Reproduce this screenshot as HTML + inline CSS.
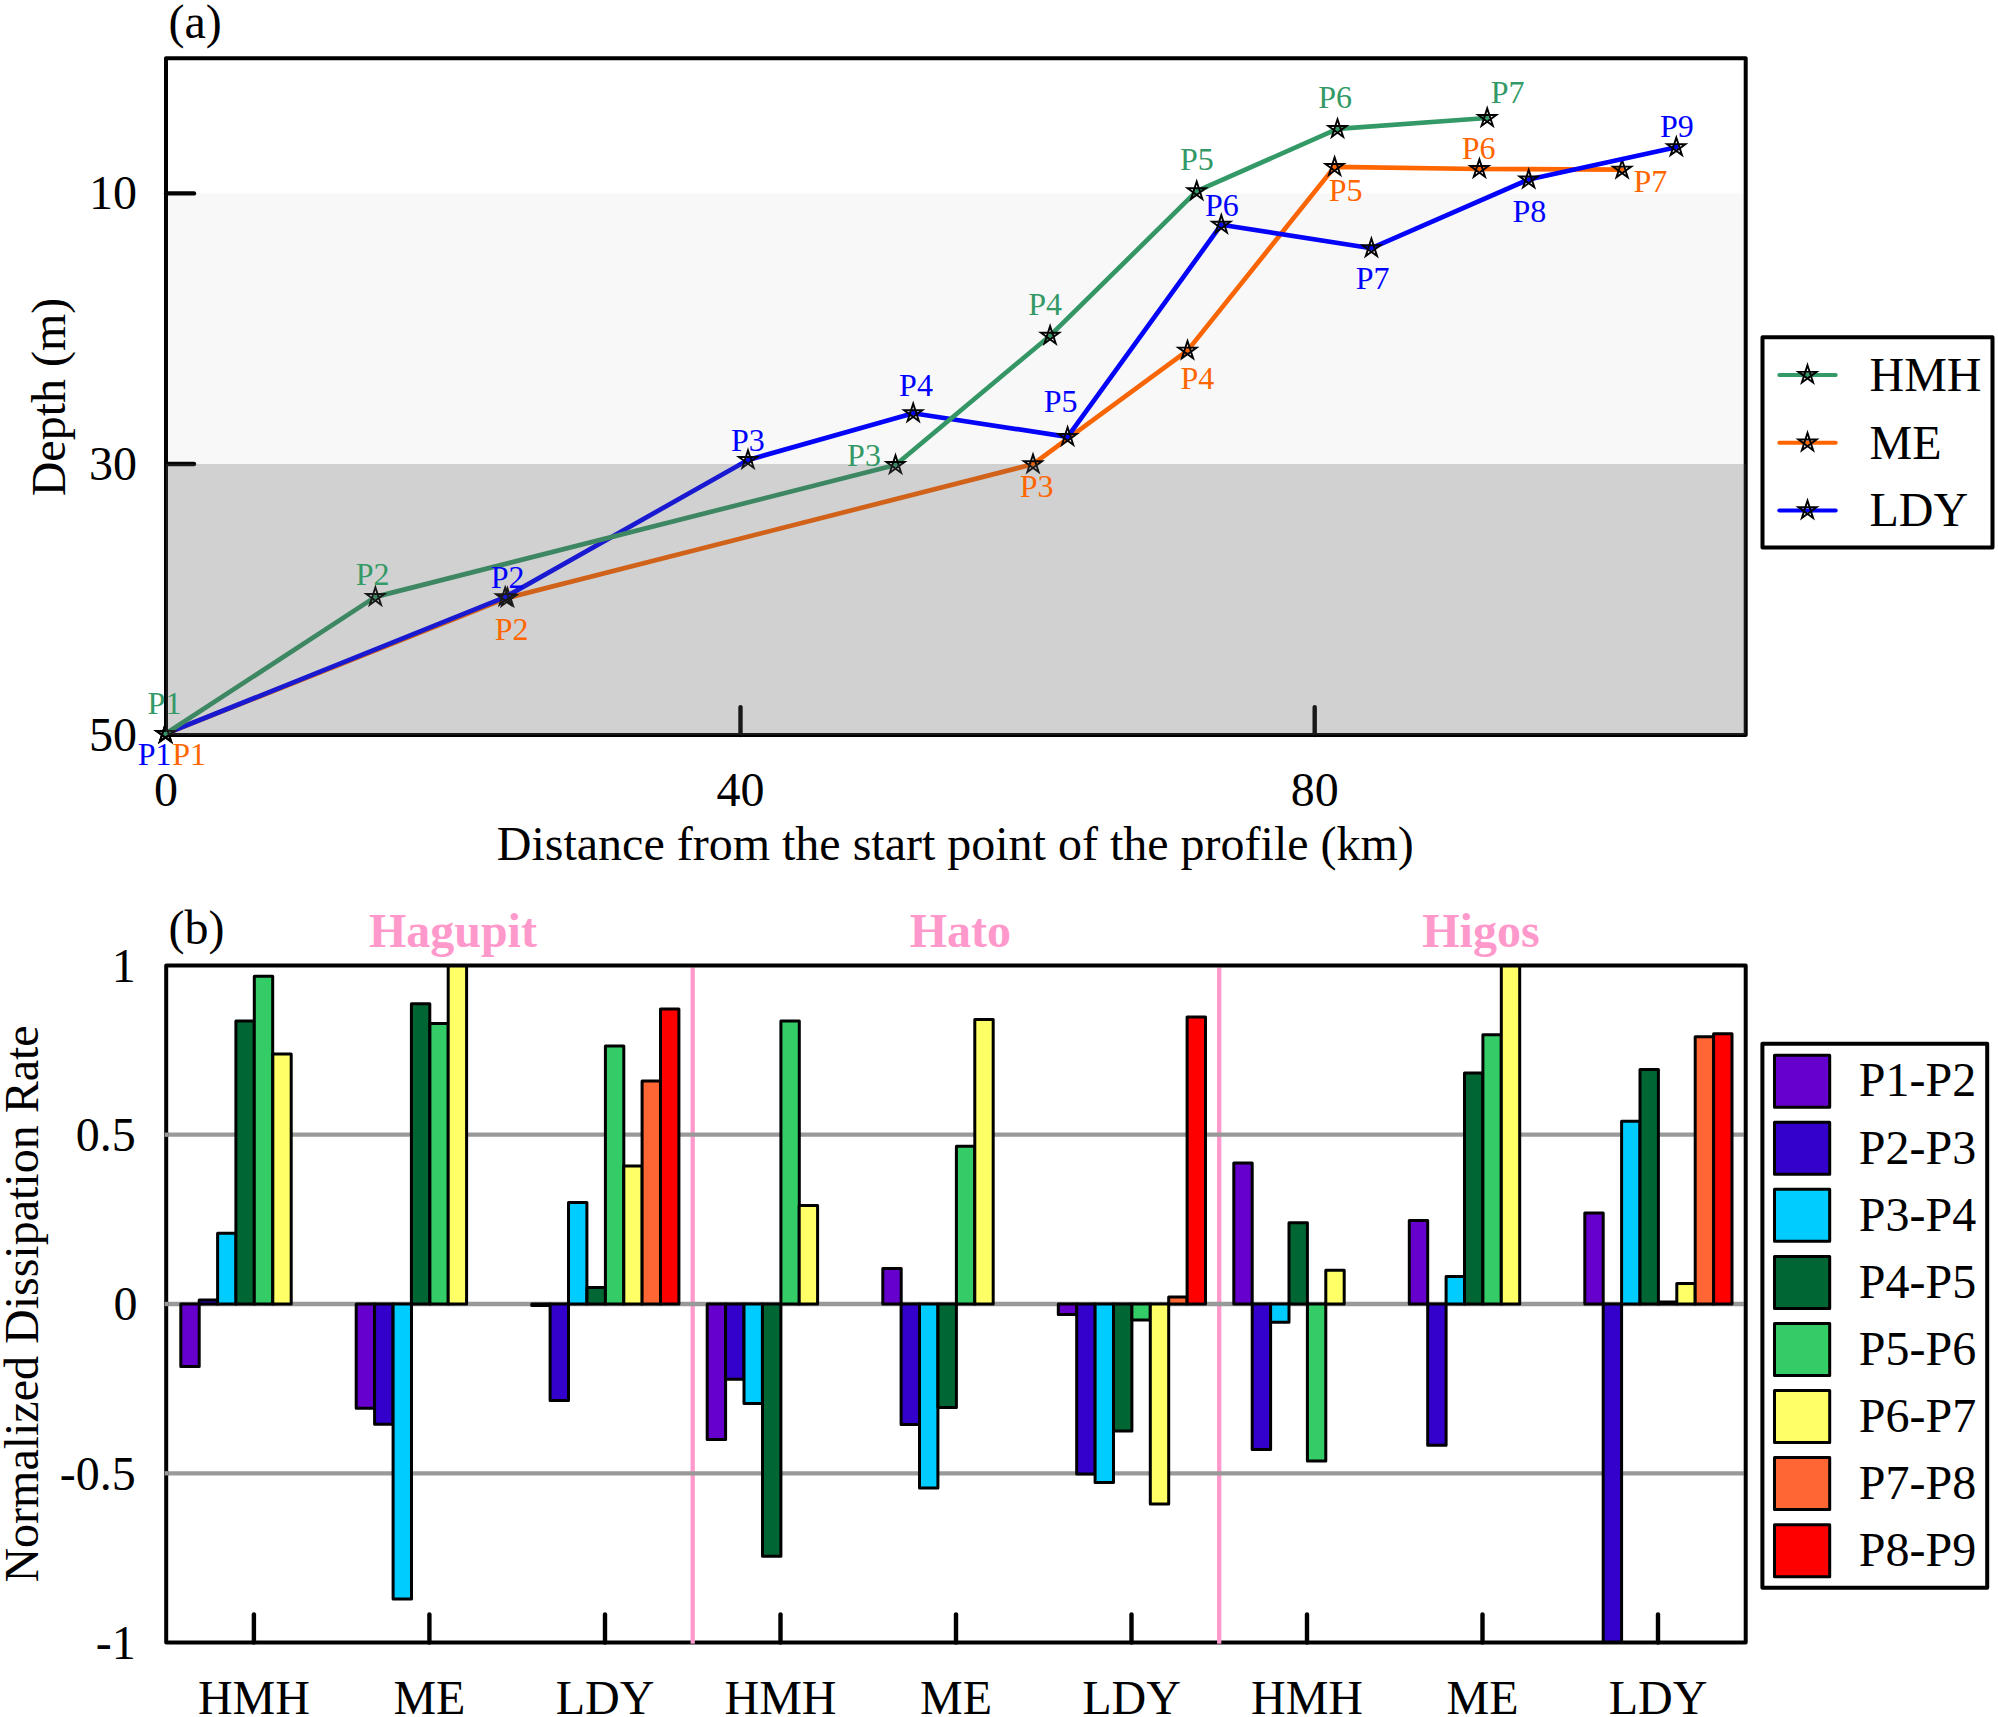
<!DOCTYPE html>
<html><head><meta charset="utf-8"><title>Figure</title>
<style>html,body{margin:0;padding:0;background:#fff;overflow:hidden;}svg{display:block;}text{font-family:"Liberation Serif","Times New Roman",serif;}</style>
</head><body>
<svg width="1998" height="1717" viewBox="0 0 1998 1717">
<rect x="0" y="0" width="1998" height="1717" fill="#fff"/>
<g id="panel-a">
<rect x="166.0" y="58.2" width="1579.7" height="676.9" fill="none" stroke="#000" stroke-width="4" stroke-linejoin="round"/>
<line x1="166.0" y1="193.4" x2="194.0" y2="193.4" stroke="#000" stroke-width="4.4" stroke-linecap="round"/>
<line x1="166.0" y1="464.0" x2="194.0" y2="464.0" stroke="#000" stroke-width="4.4" stroke-linecap="round"/>
<line x1="740.5" y1="735.1" x2="740.5" y2="707.1" stroke="#000" stroke-width="4.4" stroke-linecap="round"/>
<line x1="1314.7" y1="735.1" x2="1314.7" y2="707.1" stroke="#000" stroke-width="4.4" stroke-linecap="round"/>
<polyline points="165.5,733.8 507.4,597.9 1033.0,464.2 1187.5,350.6 1334.6,166.9 1479.4,169.0 1622.1,169.6" fill="none" stroke="#FF6600" stroke-width="4.7" stroke-linejoin="round" stroke-linecap="round"/>
<polygon points="165.50,724.20 171.14,741.57 156.37,730.83 174.63,730.83 159.86,741.57" fill="none" stroke="#000" stroke-width="1.9" stroke-linejoin="miter" stroke-miterlimit="6"/>
<polygon points="507.40,588.30 513.04,605.67 498.27,594.93 516.53,594.93 501.76,605.67" fill="none" stroke="#000" stroke-width="1.9" stroke-linejoin="miter" stroke-miterlimit="6"/>
<polygon points="1033.00,454.60 1038.64,471.97 1023.87,461.23 1042.13,461.23 1027.36,471.97" fill="none" stroke="#000" stroke-width="1.9" stroke-linejoin="miter" stroke-miterlimit="6"/>
<polygon points="1187.50,341.00 1193.14,358.37 1178.37,347.63 1196.63,347.63 1181.86,358.37" fill="none" stroke="#000" stroke-width="1.9" stroke-linejoin="miter" stroke-miterlimit="6"/>
<polygon points="1334.60,157.30 1340.24,174.67 1325.47,163.93 1343.73,163.93 1328.96,174.67" fill="none" stroke="#000" stroke-width="1.9" stroke-linejoin="miter" stroke-miterlimit="6"/>
<polygon points="1479.40,159.40 1485.04,176.77 1470.27,166.03 1488.53,166.03 1473.76,176.77" fill="none" stroke="#000" stroke-width="1.9" stroke-linejoin="miter" stroke-miterlimit="6"/>
<polygon points="1622.10,160.00 1627.74,177.37 1612.97,166.63 1631.23,166.63 1616.46,177.37" fill="none" stroke="#000" stroke-width="1.9" stroke-linejoin="miter" stroke-miterlimit="6"/>
<polyline points="165.5,733.8 505.2,597.1 748.0,460.0 913.2,413.2 1067.6,436.9 1221.3,224.7 1371.4,248.2 1528.7,179.5 1676.3,147.2" fill="none" stroke="#0000FF" stroke-width="4.7" stroke-linejoin="round" stroke-linecap="round"/>
<polygon points="165.50,724.20 171.14,741.57 156.37,730.83 174.63,730.83 159.86,741.57" fill="none" stroke="#000" stroke-width="1.9" stroke-linejoin="miter" stroke-miterlimit="6"/>
<polygon points="505.20,587.50 510.84,604.87 496.07,594.13 514.33,594.13 499.56,604.87" fill="none" stroke="#000" stroke-width="1.9" stroke-linejoin="miter" stroke-miterlimit="6"/>
<polygon points="748.00,450.40 753.64,467.77 738.87,457.03 757.13,457.03 742.36,467.77" fill="none" stroke="#000" stroke-width="1.9" stroke-linejoin="miter" stroke-miterlimit="6"/>
<polygon points="913.20,403.60 918.84,420.97 904.07,410.23 922.33,410.23 907.56,420.97" fill="none" stroke="#000" stroke-width="1.9" stroke-linejoin="miter" stroke-miterlimit="6"/>
<polygon points="1067.60,427.30 1073.24,444.67 1058.47,433.93 1076.73,433.93 1061.96,444.67" fill="none" stroke="#000" stroke-width="1.9" stroke-linejoin="miter" stroke-miterlimit="6"/>
<polygon points="1221.30,215.10 1226.94,232.47 1212.17,221.73 1230.43,221.73 1215.66,232.47" fill="none" stroke="#000" stroke-width="1.9" stroke-linejoin="miter" stroke-miterlimit="6"/>
<polygon points="1371.40,238.60 1377.04,255.97 1362.27,245.23 1380.53,245.23 1365.76,255.97" fill="none" stroke="#000" stroke-width="1.9" stroke-linejoin="miter" stroke-miterlimit="6"/>
<polygon points="1528.70,169.90 1534.34,187.27 1519.57,176.53 1537.83,176.53 1523.06,187.27" fill="none" stroke="#000" stroke-width="1.9" stroke-linejoin="miter" stroke-miterlimit="6"/>
<polygon points="1676.30,137.60 1681.94,154.97 1667.17,144.23 1685.43,144.23 1670.66,154.97" fill="none" stroke="#000" stroke-width="1.9" stroke-linejoin="miter" stroke-miterlimit="6"/>
<polyline points="165.5,733.8 375.4,596.9 895.5,465.0 1050.1,335.7 1196.7,191.2 1337.5,128.9 1487.2,118.0" fill="none" stroke="#339966" stroke-width="4.7" stroke-linejoin="round" stroke-linecap="round"/>
<polygon points="165.50,724.20 171.14,741.57 156.37,730.83 174.63,730.83 159.86,741.57" fill="none" stroke="#000" stroke-width="1.9" stroke-linejoin="miter" stroke-miterlimit="6"/>
<polygon points="375.40,587.30 381.04,604.67 366.27,593.93 384.53,593.93 369.76,604.67" fill="none" stroke="#000" stroke-width="1.9" stroke-linejoin="miter" stroke-miterlimit="6"/>
<polygon points="895.50,455.40 901.14,472.77 886.37,462.03 904.63,462.03 889.86,472.77" fill="none" stroke="#000" stroke-width="1.9" stroke-linejoin="miter" stroke-miterlimit="6"/>
<polygon points="1050.10,326.10 1055.74,343.47 1040.97,332.73 1059.23,332.73 1044.46,343.47" fill="none" stroke="#000" stroke-width="1.9" stroke-linejoin="miter" stroke-miterlimit="6"/>
<polygon points="1196.70,181.60 1202.34,198.97 1187.57,188.23 1205.83,188.23 1191.06,198.97" fill="none" stroke="#000" stroke-width="1.9" stroke-linejoin="miter" stroke-miterlimit="6"/>
<polygon points="1337.50,119.30 1343.14,136.67 1328.37,125.93 1346.63,125.93 1331.86,136.67" fill="none" stroke="#000" stroke-width="1.9" stroke-linejoin="miter" stroke-miterlimit="6"/>
<polygon points="1487.20,108.40 1492.84,125.77 1478.07,115.03 1496.33,115.03 1481.56,125.77" fill="none" stroke="#000" stroke-width="1.9" stroke-linejoin="miter" stroke-miterlimit="6"/>
<rect x="166.0" y="193.4" width="1579.7" height="270.6" fill="rgb(90,90,90)" fill-opacity="0.042"/>
<rect x="166.0" y="464.0" width="1579.7" height="271.1" fill="rgb(90,90,90)" fill-opacity="0.28"/>
<text x="136.9" y="208.9" font-size="48" fill="#000" text-anchor="end">10</text>
<text x="136.9" y="479.5" font-size="48" fill="#000" text-anchor="end">30</text>
<text x="136.9" y="750.5" font-size="48" fill="#000" text-anchor="end">50</text>
<text x="166.0" y="806.0" font-size="48" fill="#000" text-anchor="middle">0</text>
<text x="740.5" y="806.0" font-size="48" fill="#000" text-anchor="middle">40</text>
<text x="1314.7" y="806.0" font-size="48" fill="#000" text-anchor="middle">80</text>
<text x="955.3" y="860.3" font-size="48" fill="#000" text-anchor="middle">Distance from the start point of the profile (km)</text>
<text transform="translate(65.2,397) rotate(-90)" font-size="48" text-anchor="middle">Depth (m)</text>
<text x="168.5" y="38.0" font-size="48" fill="#000" text-anchor="start">(a)</text>
<text x="147.6" y="714.4" font-size="32" fill="#339966" text-anchor="start">P1</text>
<text x="355.7" y="584.6" font-size="32" fill="#339966" text-anchor="start">P2</text>
<text x="847.1" y="465.7" font-size="32" fill="#339966" text-anchor="start">P3</text>
<text x="1028.2" y="314.7" font-size="32" fill="#339966" text-anchor="start">P4</text>
<text x="1180.0" y="170.2" font-size="32" fill="#339966" text-anchor="start">P5</text>
<text x="1318.2" y="107.5" font-size="32" fill="#339966" text-anchor="start">P6</text>
<text x="1490.8" y="102.7" font-size="32" fill="#339966" text-anchor="start">P7</text>
<text x="172.3" y="765.3" font-size="32" fill="#FF6600" text-anchor="start">P1</text>
<text x="494.7" y="639.9" font-size="32" fill="#FF6600" text-anchor="start">P2</text>
<text x="1019.8" y="497.2" font-size="32" fill="#FF6600" text-anchor="start">P3</text>
<text x="1180.5" y="389.0" font-size="32" fill="#FF6600" text-anchor="start">P4</text>
<text x="1328.7" y="201.2" font-size="32" fill="#FF6600" text-anchor="start">P5</text>
<text x="1461.7" y="159.1" font-size="32" fill="#FF6600" text-anchor="start">P6</text>
<text x="1633.5" y="192.1" font-size="32" fill="#FF6600" text-anchor="start">P7</text>
<text x="137.7" y="765.3" font-size="32" fill="#0000FF" text-anchor="start">P1</text>
<text x="490.8" y="588.2" font-size="32" fill="#0000FF" text-anchor="start">P2</text>
<text x="730.9" y="450.7" font-size="32" fill="#0000FF" text-anchor="start">P3</text>
<text x="899.1" y="395.7" font-size="32" fill="#0000FF" text-anchor="start">P4</text>
<text x="1043.8" y="411.7" font-size="32" fill="#0000FF" text-anchor="start">P5</text>
<text x="1205.0" y="215.6" font-size="32" fill="#0000FF" text-anchor="start">P6</text>
<text x="1355.7" y="289.1" font-size="32" fill="#0000FF" text-anchor="start">P7</text>
<text x="1512.5" y="221.6" font-size="32" fill="#0000FF" text-anchor="start">P8</text>
<text x="1659.9" y="136.6" font-size="32" fill="#0000FF" text-anchor="start">P9</text>
<rect x="1762.5" y="337.3" width="230" height="210.2" fill="#fff" stroke="#000" stroke-width="4" stroke-linejoin="round"/>
<line x1="1779.3" y1="375.0" x2="1835.7" y2="375.0" stroke="#339966" stroke-width="4" stroke-linecap="round"/>
<polygon points="1807.50,365.20 1813.14,382.57 1798.37,371.83 1816.63,371.83 1801.86,382.57" fill="none" stroke="#000" stroke-width="1.9" stroke-linejoin="miter" stroke-miterlimit="6"/>
<text x="1869.5" y="391.4" font-size="48" fill="#000" text-anchor="start">HMH</text>
<line x1="1779.3" y1="442.7" x2="1835.7" y2="442.7" stroke="#FF6600" stroke-width="4" stroke-linecap="round"/>
<polygon points="1807.50,432.90 1813.14,450.27 1798.37,439.53 1816.63,439.53 1801.86,450.27" fill="none" stroke="#000" stroke-width="1.9" stroke-linejoin="miter" stroke-miterlimit="6"/>
<text x="1869.5" y="458.8" font-size="48" fill="#000" text-anchor="start">ME</text>
<line x1="1779.3" y1="510.4" x2="1835.7" y2="510.4" stroke="#0000FF" stroke-width="4" stroke-linecap="round"/>
<polygon points="1807.50,500.60 1813.14,517.97 1798.37,507.23 1816.63,507.23 1801.86,517.97" fill="none" stroke="#000" stroke-width="1.9" stroke-linejoin="miter" stroke-miterlimit="6"/>
<text x="1869.5" y="526.4" font-size="48" fill="#000" text-anchor="start">LDY</text>
</g>
<g id="panel-b">
<clipPath id="cb"><rect x="166.2" y="963.4" width="1579.5" height="681.1"/></clipPath>
<line x1="692.7" y1="967.4" x2="692.7" y2="1640.5" stroke="#FF99CC" stroke-width="4.3"/>
<line x1="1219.2" y1="967.4" x2="1219.2" y2="1640.5" stroke="#FF99CC" stroke-width="4.3"/>
<line x1="166.2" y1="1134.7" x2="1743.7" y2="1134.7" stroke="#999999" stroke-width="4.3"/>
<line x1="166.2" y1="1304.0" x2="1743.7" y2="1304.0" stroke="#999999" stroke-width="4.3"/>
<line x1="166.2" y1="1473.3" x2="1743.7" y2="1473.3" stroke="#999999" stroke-width="4.3"/>
<g clip-path="url(#cb)" stroke="#000" stroke-width="3" stroke-linejoin="round">
<rect x="180.8" y="1304.0" width="18.4" height="62.6" fill="#6600CC"/>
<rect x="199.2" y="1299.9" width="18.4" height="4.1" fill="#3300CC"/>
<rect x="217.6" y="1233.2" width="18.4" height="70.8" fill="#00CCFF"/>
<rect x="235.9" y="1020.9" width="18.4" height="283.1" fill="#006633"/>
<rect x="254.3" y="976.2" width="18.4" height="327.8" fill="#33CC66"/>
<rect x="272.8" y="1054.1" width="18.4" height="249.9" fill="#FFFF66"/>
<rect x="356.2" y="1304.0" width="18.4" height="104.3" fill="#6600CC"/>
<rect x="374.6" y="1304.0" width="18.4" height="120.2" fill="#3300CC"/>
<rect x="393.1" y="1304.0" width="18.4" height="294.9" fill="#00CCFF"/>
<rect x="411.4" y="1003.7" width="18.4" height="300.3" fill="#006633"/>
<rect x="429.9" y="1023.6" width="18.4" height="280.4" fill="#33CC66"/>
<rect x="448.2" y="965.4" width="18.4" height="338.6" fill="#FFFF66"/>
<rect x="531.8" y="1304.0" width="18.4" height="1.4" fill="#6600CC"/>
<rect x="550.1" y="1304.0" width="18.4" height="96.5" fill="#3300CC"/>
<rect x="568.5" y="1202.4" width="18.4" height="101.6" fill="#00CCFF"/>
<rect x="587.0" y="1287.4" width="18.4" height="16.6" fill="#006633"/>
<rect x="605.4" y="1046.0" width="18.4" height="258.0" fill="#33CC66"/>
<rect x="623.8" y="1165.9" width="18.4" height="138.1" fill="#FFFF66"/>
<rect x="642.1" y="1080.9" width="18.4" height="223.1" fill="#FF6633"/>
<rect x="660.5" y="1009.1" width="18.4" height="294.9" fill="#FF0000"/>
<rect x="707.2" y="1304.0" width="18.4" height="135.4" fill="#6600CC"/>
<rect x="725.6" y="1304.0" width="18.4" height="75.2" fill="#3300CC"/>
<rect x="744.0" y="1304.0" width="18.4" height="99.5" fill="#00CCFF"/>
<rect x="762.5" y="1304.0" width="18.4" height="252.3" fill="#006633"/>
<rect x="780.9" y="1020.9" width="18.4" height="283.1" fill="#33CC66"/>
<rect x="799.2" y="1205.5" width="18.4" height="98.5" fill="#FFFF66"/>
<rect x="882.8" y="1268.4" width="18.4" height="35.6" fill="#6600CC"/>
<rect x="901.1" y="1304.0" width="18.4" height="120.5" fill="#3300CC"/>
<rect x="919.5" y="1304.0" width="18.4" height="183.9" fill="#00CCFF"/>
<rect x="938.0" y="1304.0" width="18.4" height="103.6" fill="#006633"/>
<rect x="956.4" y="1146.2" width="18.4" height="157.8" fill="#33CC66"/>
<rect x="974.8" y="1019.6" width="18.4" height="284.4" fill="#FFFF66"/>
<rect x="1058.3" y="1304.0" width="18.4" height="10.5" fill="#6600CC"/>
<rect x="1076.7" y="1304.0" width="18.4" height="170.0" fill="#3300CC"/>
<rect x="1095.1" y="1304.0" width="18.4" height="178.4" fill="#00CCFF"/>
<rect x="1113.5" y="1304.0" width="18.4" height="127.0" fill="#006633"/>
<rect x="1131.9" y="1304.0" width="18.4" height="15.9" fill="#33CC66"/>
<rect x="1150.3" y="1304.0" width="18.4" height="200.1" fill="#FFFF66"/>
<rect x="1168.7" y="1296.9" width="18.4" height="7.1" fill="#FF6633"/>
<rect x="1187.1" y="1016.9" width="18.4" height="287.1" fill="#FF0000"/>
<rect x="1233.8" y="1163.1" width="18.4" height="140.9" fill="#6600CC"/>
<rect x="1252.2" y="1304.0" width="18.4" height="145.6" fill="#3300CC"/>
<rect x="1270.6" y="1304.0" width="18.4" height="18.3" fill="#00CCFF"/>
<rect x="1289.0" y="1222.7" width="18.4" height="81.3" fill="#006633"/>
<rect x="1307.4" y="1304.0" width="18.4" height="157.1" fill="#33CC66"/>
<rect x="1325.8" y="1270.3" width="18.4" height="33.7" fill="#FFFF66"/>
<rect x="1409.3" y="1220.4" width="18.4" height="83.6" fill="#6600CC"/>
<rect x="1427.7" y="1304.0" width="18.4" height="141.2" fill="#3300CC"/>
<rect x="1446.1" y="1276.6" width="18.4" height="27.4" fill="#00CCFF"/>
<rect x="1464.5" y="1073.1" width="18.4" height="230.9" fill="#006633"/>
<rect x="1482.9" y="1034.8" width="18.4" height="269.2" fill="#33CC66"/>
<rect x="1501.3" y="965.4" width="18.4" height="338.6" fill="#FFFF66"/>
<rect x="1584.8" y="1212.9" width="18.4" height="91.1" fill="#6600CC"/>
<rect x="1603.2" y="1304.0" width="18.4" height="338.6" fill="#3300CC"/>
<rect x="1621.6" y="1121.2" width="18.4" height="182.8" fill="#00CCFF"/>
<rect x="1640.0" y="1069.4" width="18.4" height="234.6" fill="#006633"/>
<rect x="1658.4" y="1302.0" width="18.4" height="2.0" fill="#33CC66"/>
<rect x="1676.8" y="1283.5" width="18.4" height="20.5" fill="#FFFF66"/>
<rect x="1695.2" y="1036.8" width="18.4" height="267.2" fill="#FF6633"/>
<rect x="1713.6" y="1033.8" width="18.4" height="270.2" fill="#FF0000"/>
</g>
<rect x="166.2" y="965.4" width="1579.5" height="677.1" fill="none" stroke="#000" stroke-width="4" stroke-linejoin="round"/>
<line x1="164.7" y1="1134.7" x2="168.4" y2="1134.7" stroke="#999999" stroke-width="4.3"/>
<line x1="164.7" y1="1304.0" x2="168.4" y2="1304.0" stroke="#999999" stroke-width="4.3"/>
<line x1="164.7" y1="1473.3" x2="168.4" y2="1473.3" stroke="#999999" stroke-width="4.3"/>
<line x1="692.7" y1="1640.0" x2="692.7" y2="1643.7" stroke="#FF99CC" stroke-width="4.3"/>
<line x1="1219.2" y1="1640.0" x2="1219.2" y2="1643.7" stroke="#FF99CC" stroke-width="4.3"/>
<line x1="253.9" y1="1642.5" x2="253.9" y2="1614.5" stroke="#000" stroke-width="4.4" stroke-linecap="round"/>
<text x="253.9" y="1713.5" font-size="48" fill="#000" text-anchor="middle">HMH</text>
<line x1="429.4" y1="1642.5" x2="429.4" y2="1614.5" stroke="#000" stroke-width="4.4" stroke-linecap="round"/>
<text x="429.4" y="1713.5" font-size="48" fill="#000" text-anchor="middle">ME</text>
<line x1="605.0" y1="1642.5" x2="605.0" y2="1614.5" stroke="#000" stroke-width="4.4" stroke-linecap="round"/>
<text x="605.0" y="1713.5" font-size="48" fill="#000" text-anchor="middle">LDY</text>
<line x1="780.5" y1="1642.5" x2="780.5" y2="1614.5" stroke="#000" stroke-width="4.4" stroke-linecap="round"/>
<text x="780.5" y="1713.5" font-size="48" fill="#000" text-anchor="middle">HMH</text>
<line x1="956.0" y1="1642.5" x2="956.0" y2="1614.5" stroke="#000" stroke-width="4.4" stroke-linecap="round"/>
<text x="956.0" y="1713.5" font-size="48" fill="#000" text-anchor="middle">ME</text>
<line x1="1131.5" y1="1642.5" x2="1131.5" y2="1614.5" stroke="#000" stroke-width="4.4" stroke-linecap="round"/>
<text x="1131.5" y="1713.5" font-size="48" fill="#000" text-anchor="middle">LDY</text>
<line x1="1307.0" y1="1642.5" x2="1307.0" y2="1614.5" stroke="#000" stroke-width="4.4" stroke-linecap="round"/>
<text x="1307.0" y="1713.5" font-size="48" fill="#000" text-anchor="middle">HMH</text>
<line x1="1482.5" y1="1642.5" x2="1482.5" y2="1614.5" stroke="#000" stroke-width="4.4" stroke-linecap="round"/>
<text x="1482.5" y="1713.5" font-size="48" fill="#000" text-anchor="middle">ME</text>
<line x1="1658.0" y1="1642.5" x2="1658.0" y2="1614.5" stroke="#000" stroke-width="4.4" stroke-linecap="round"/>
<text x="1658.0" y="1713.5" font-size="48" fill="#000" text-anchor="middle">LDY</text>
<text x="135.8" y="981.7" font-size="48" fill="#000" text-anchor="end">1</text>
<text x="135.8" y="1151.0" font-size="48" fill="#000" text-anchor="end">0.5</text>
<text x="137.4" y="1320.3" font-size="48" fill="#000" text-anchor="end">0</text>
<text x="135.8" y="1489.6" font-size="48" fill="#000" text-anchor="end">-0.5</text>
<text x="135.8" y="1658.9" font-size="48" fill="#000" text-anchor="end">-1</text>
<text transform="translate(37.6,1304) rotate(-90)" font-size="48" text-anchor="middle">Normalized Dissipation Rate</text>
<text x="168.5" y="944.3" font-size="48" fill="#000" text-anchor="start">(b)</text>
<text x="452.9" y="946.7" font-size="48" fill="#FF99CC" text-anchor="middle" font-weight="bold">Hagupit</text>
<text x="960.4" y="946.7" font-size="48" fill="#FF99CC" text-anchor="middle" font-weight="bold">Hato</text>
<text x="1480.9" y="946.7" font-size="48" fill="#FF99CC" text-anchor="middle" font-weight="bold">Higos</text>
<rect x="1762.4" y="1043.7" width="224.8" height="544.1" fill="#fff" stroke="#000" stroke-width="4" stroke-linejoin="round"/>
<rect x="1774.5" y="1055.2" width="55.2" height="52" fill="#6600CC" stroke="#000" stroke-width="3" stroke-linejoin="round"/>
<text x="1858.8" y="1096.4" font-size="48" fill="#000" text-anchor="start">P1-P2</text>
<rect x="1774.5" y="1122.3" width="55.2" height="52" fill="#3300CC" stroke="#000" stroke-width="3" stroke-linejoin="round"/>
<text x="1858.8" y="1163.5" font-size="48" fill="#000" text-anchor="start">P2-P3</text>
<rect x="1774.5" y="1189.3" width="55.2" height="52" fill="#00CCFF" stroke="#000" stroke-width="3" stroke-linejoin="round"/>
<text x="1858.8" y="1230.5" font-size="48" fill="#000" text-anchor="start">P3-P4</text>
<rect x="1774.5" y="1256.4" width="55.2" height="52" fill="#006633" stroke="#000" stroke-width="3" stroke-linejoin="round"/>
<text x="1858.8" y="1297.6" font-size="48" fill="#000" text-anchor="start">P4-P5</text>
<rect x="1774.5" y="1323.5" width="55.2" height="52" fill="#33CC66" stroke="#000" stroke-width="3" stroke-linejoin="round"/>
<text x="1858.8" y="1364.7" font-size="48" fill="#000" text-anchor="start">P5-P6</text>
<rect x="1774.5" y="1390.5" width="55.2" height="52" fill="#FFFF66" stroke="#000" stroke-width="3" stroke-linejoin="round"/>
<text x="1858.8" y="1431.8" font-size="48" fill="#000" text-anchor="start">P6-P7</text>
<rect x="1774.5" y="1457.6" width="55.2" height="52" fill="#FF6633" stroke="#000" stroke-width="3" stroke-linejoin="round"/>
<text x="1858.8" y="1498.8" font-size="48" fill="#000" text-anchor="start">P7-P8</text>
<rect x="1774.5" y="1524.7" width="55.2" height="52" fill="#FF0000" stroke="#000" stroke-width="3" stroke-linejoin="round"/>
<text x="1858.8" y="1565.9" font-size="48" fill="#000" text-anchor="start">P8-P9</text>
</g>
</svg></body></html>
